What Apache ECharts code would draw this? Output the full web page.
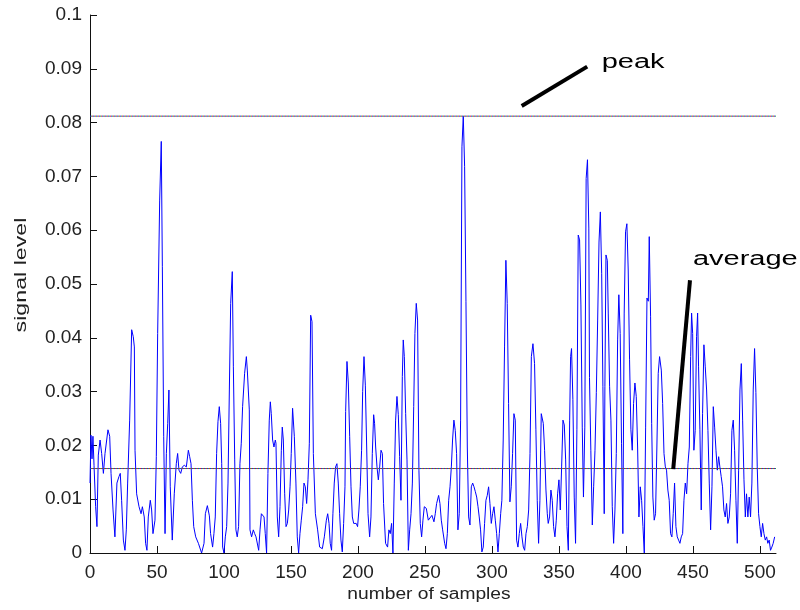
<!DOCTYPE html>
<html>
<head>
<meta charset="utf-8">
<script src="https://cdn.jsdelivr.net/npm/echarts@6/dist/echarts.min.js"></script>
<style>
  html, body { margin: 0; padding: 0; background: #ffffff; }
  #chart { width: 800px; height: 610px; }
</style>
</head>
<body>
<div id="chart"></div>
<script>
// ---- data ----
const xTitle = 'number of samples';
const yTitle = 'signal level';
const yTickLabels = ['0', '0.01', '0.02', '0.03', '0.04', '0.05', '0.06', '0.07', '0.08', '0.09', '0.1'];
const peakLabel = 'peak';
const averageLabel = 'average';
const peakLevel = 0.0812;
const averageLevel = 0.0157;

const sampleIdx = [
  0, 0.7, 1.5, 2.2, 3, 4.2, 5.2, 6.2, 7.5, 8.7, 10.0, 11.2, 12.4, 13.4, 14.7, 15.7, 17.2, 18.6, 20.1, 21.6,
  22.6, 23.6, 24.9, 26.1, 27.1, 28.1, 29.6, 31.1, 32.3, 33.1, 33.6, 34.8, 36.6, 38.1, 39.1, 40.5, 41.5, 42.5, 43.5, 45.0,
  46.0, 47.0, 48.5, 49.5, 50.5, 52.0, 53.2, 54.0, 55.0, 56.0, 57.0, 58.0, 58.9, 59.9, 61.4, 62.9, 64.4, 65.4, 66.4, 67.7,
  68.9, 70.4, 71.9, 73.4, 74.4, 75.4, 76.4, 77.4, 78.9, 80.9, 83.3, 85.1, 86.1, 87.6, 89.1, 90.0, 91.5, 92.5, 93.5, 94.5,
  95.5, 96.5, 97.5, 98.3, 99.0, 100.0, 101.0, 102.0, 103.0, 104.0, 105.0, 106.2, 107.0, 108.0, 108.9, 109.9, 110.9, 111.9, 112.9, 113.9,
  115.4, 116.7, 117.4, 118.9, 119.4, 120.6, 121.9, 122.9, 123.9, 124.9, 125.9, 126.9, 127.9, 128.9, 129.9, 130.8, 131.8, 132.8, 133.8, 134.6,
  135.3, 136.3, 137.3, 138.3, 138.8, 139.8, 140.8, 141.8, 142.8, 143.5, 144.3, 145.3, 146.3, 147.3, 148.3, 149.3, 150.2, 151.2, 152.5, 153.7,
  154.7, 155.7, 156.7, 157.7, 158.7, 159.7, 160.7, 161.7, 162.7, 163.7, 164.7, 165.7, 166.7, 168.2, 169.9, 171.4, 173.4, 174.9, 176.4, 177.4,
  178.4, 179.3, 180.3, 181.3, 182.3, 183.3, 184.3, 185.3, 186.3, 187.3, 188.3, 189.3, 190.3, 190.8, 191.8, 192.8, 193.8, 194.8, 195.8, 196.8,
  197.7, 198.7, 199.7, 200.7, 201.7, 202.7, 203.5, 204.5, 205.5, 206.5, 207.5, 208.7, 209.7, 210.7, 211.7, 212.4, 213.2, 214.2, 215.2, 216.2,
  217.2, 218.2, 219.1, 220.6, 222.1, 223.1, 224.1, 225.1, 226.1, 227.1, 228.1, 229.1, 230.1, 231.1, 232.1, 233.1, 233.8, 234.6, 235.6, 236.6,
  237.6, 238.6, 239.6, 240.6, 241.6, 242.5, 243.5, 244.5, 245.5, 246.5, 247.5, 248.5, 249.5, 251.0, 252.5, 253.7, 255.2, 256.7, 257.7, 258.7,
  260.2, 261.2, 262.2, 263.2, 264.7, 265.7, 266.7, 267.7, 268.7, 269.7, 270.6, 271.6, 272.6, 273.6, 274.6, 275.6, 276.6, 277.6, 278.6, 279.6,
  280.6, 281.6, 282.6, 283.6, 284.6, 285.6, 286.6, 287.6, 288.6, 289.6, 290.5, 291.5, 292.5, 293.5, 294.5, 295.5, 296.5, 297.5, 298.5, 299.5,
  300.5, 301.5, 302.5, 303.5, 304.5, 305.5, 306.5, 307.4, 308.4, 309.4, 310.4, 311.4, 312.4, 313.4, 314.4, 315.4, 316.4, 317.4, 318.4, 319.4,
  320.4, 321.4, 322.4, 323.4, 324.4, 325.4, 326.4, 327.4, 328.4, 329.4, 330.6, 331.8, 332.8, 333.8, 334.8, 335.8, 336.8, 337.6, 338.3, 339.3,
  340.3, 341.3, 342.0, 343.0, 344.0, 345.0, 346.0, 347.0, 348.0, 349.0, 350.0, 351.0, 352.0, 353.0, 354.0, 355.0, 356.0, 357.0, 358.0, 358.7,
  359.4, 360.4, 361.4, 362.4, 363.4, 364.4, 365.4, 366.4, 367.4, 368.3, 369.3, 370.3, 371.3, 372.3, 372.8, 373.8, 374.9, 375.9, 376.9, 377.9,
  378.9, 379.9, 380.9, 381.9, 382.8, 383.8, 384.3, 385.1, 386.1, 386.8, 387.8, 388.8, 389.8, 390.8, 391.8, 392.8, 393.8, 394.7, 395.7, 396.7,
  397.7, 398.7, 399.7, 400.7, 401.7, 402.7, 403.7, 404.7, 405.7, 406.7, 407.7, 408.7, 409.7, 410.7, 411.7, 412.7, 413.7, 414.7, 415.7, 416.7,
  417.4, 418.4, 419.2, 420.1, 421.1, 422.1, 423.1, 424.1, 425.1, 426.4, 427.4, 428.4, 429.4, 430.3, 431.3, 432.3, 433.3, 434.3, 435.3, 436.3,
  437.3, 438.3, 439.3, 440.3, 441.3, 442.3, 443.3, 444.3, 445.3, 446.3, 447.3, 448.3, 449.0, 449.8, 450.7, 451.7, 452.7, 453.5, 454.2, 455.2,
  456.2, 457.2, 458.2, 459.2, 460.2, 461.2, 462.2, 463.2, 464.2, 465.2, 466.2, 467.2, 468.2, 469.2, 470.1, 471.1, 472.1, 473.1, 474.1, 475.1,
  476.1, 477.1, 478.1, 479.1, 480.1, 481.1, 482.1, 483.1, 484.1, 485.1, 486.1, 487.1, 488.1, 489.1, 490.0, 491.0, 492.0, 493.0, 494.0, 495.0,
  496.0, 497.0, 498.0, 499.0, 500.0, 501.0, 502.0, 503.0, 504.0, 505.0, 505.9, 506.9, 507.9, 508.9, 509.9, 511
];
const signal = [
  0.0130, 0.0219, 0.0175, 0.0217, 0.0163, 0.0086, 0.0049, 0.0182, 0.0210, 0.0185, 0.0148, 0.0185, 0.0185, 0.0229, 0.0217, 0.0148, 0.0080, 0.0030, 0.0130, 0.0142,
  0.0148, 0.0098, 0.0024, 0.0005, 0.0043, 0.0130, 0.0247, 0.0415, 0.0402, 0.0383, 0.0191, 0.0110, 0.0086, 0.0073, 0.0086, 0.0067, 0.0018, 0.0005, 0.0067, 0.0098,
  0.0080, 0.0036, 0.0061, 0.0179, 0.0408, 0.0656, 0.0765, 0.0532, 0.0217, 0.0036, 0.0185, 0.0241, 0.0303, 0.0123, 0.0024, 0.0110, 0.0166, 0.0185, 0.0154, 0.0148,
  0.0160, 0.0163, 0.0160, 0.0191, 0.0179, 0.0166, 0.0098, 0.0049, 0.0030, 0.0018, 0.0000, 0.0018, 0.0073, 0.0088, 0.0069, 0.0036, 0.0011, 0.0036, 0.0067, 0.0185,
  0.0244, 0.0272, 0.0241, 0.0166, 0.0011, 0.0000, 0.0030, 0.0049, 0.0130, 0.0303, 0.0464, 0.0523, 0.0346, 0.0173, 0.0043, 0.0030, 0.0049, 0.0166, 0.0204, 0.0272,
  0.0334, 0.0365, 0.0340, 0.0266, 0.0043, 0.0030, 0.0043, 0.0036, 0.0030, 0.0030, 0.0005, 0.0043, 0.0073, 0.0073, 0.0067, 0.0036, 0.0000, 0.0148, 0.0247, 0.0281,
  0.0259, 0.0210, 0.0197, 0.0210, 0.0204, 0.0067, 0.0030, 0.0086, 0.0191, 0.0234, 0.0210, 0.0110, 0.0049, 0.0055, 0.0080, 0.0123, 0.0185, 0.0269, 0.0217, 0.0130,
  0.0030, 0.0000, 0.0036, 0.0061, 0.0086, 0.0130, 0.0123, 0.0092, 0.0136, 0.0204, 0.0442, 0.0430, 0.0185, 0.0073, 0.0043, 0.0011, 0.0008, 0.0030, 0.0061, 0.0073,
  0.0055, 0.0018, 0.0005, 0.0073, 0.0130, 0.0160, 0.0166, 0.0130, 0.0073, 0.0024, 0.0002, 0.0055, 0.0123, 0.0263, 0.0356, 0.0316, 0.0217, 0.0123, 0.0067, 0.0055,
  0.0058, 0.0055, 0.0049, 0.0080, 0.0123, 0.0191, 0.0300, 0.0365, 0.0312, 0.0197, 0.0073, 0.0030, 0.0067, 0.0185, 0.0257, 0.0241, 0.0197, 0.0160, 0.0136, 0.0160,
  0.0191, 0.0185, 0.0092, 0.0018, 0.0011, 0.0043, 0.0036, 0.0055, 0.0000, 0.0130, 0.0247, 0.0291, 0.0257, 0.0179, 0.0098, 0.0328, 0.0396, 0.0365, 0.0259, 0.0173,
  0.0005, 0.0043, 0.0073, 0.0130, 0.0272, 0.0408, 0.0464, 0.0433, 0.0154, 0.0055, 0.0030, 0.0061, 0.0086, 0.0083, 0.0061, 0.0058, 0.0070, 0.0058, 0.0073, 0.0092,
  0.0107, 0.0092, 0.0061, 0.0043, 0.0018, 0.0008, 0.0036, 0.0098, 0.0123, 0.0160, 0.0210, 0.0247, 0.0228, 0.0185, 0.0043, 0.0073, 0.0247, 0.0755, 0.0812, 0.0718,
  0.0467, 0.0197, 0.0067, 0.0052, 0.0123, 0.0130, 0.0123, 0.0114, 0.0104, 0.0086, 0.0067, 0.0043, 0.0002, 0.0011, 0.0055, 0.0098, 0.0107, 0.0123, 0.0092, 0.0055,
  0.0073, 0.0086, 0.0061, 0.0036, 0.0002, 0.0036, 0.0073, 0.0098, 0.0210, 0.0383, 0.0544, 0.0464, 0.0278, 0.0095, 0.0123, 0.0185, 0.0259, 0.0247, 0.0024, 0.0011,
  0.0036, 0.0055, 0.0030, 0.0011, 0.0005, 0.0036, 0.0049, 0.0080, 0.0185, 0.0365, 0.0389, 0.0352, 0.0229, 0.0098, 0.0018, 0.0098, 0.0259, 0.0257, 0.0241, 0.0191,
  0.0117, 0.0073, 0.0055, 0.0067, 0.0117, 0.0098, 0.0049, 0.0030, 0.0061, 0.0110, 0.0136, 0.0080, 0.0160, 0.0247, 0.0238, 0.0173, 0.0049, 0.0005, 0.0247, 0.0365,
  0.0380, 0.0285, 0.0104, 0.0018, 0.0229, 0.0591, 0.0582, 0.0461, 0.0234, 0.0104, 0.0234, 0.0696, 0.0731, 0.0604, 0.0326, 0.0191, 0.0052, 0.0123, 0.0191, 0.0298,
  0.0433, 0.0578, 0.0634, 0.0520, 0.0310, 0.0073, 0.0310, 0.0554, 0.0544, 0.0446, 0.0310, 0.0247, 0.0086, 0.0018, 0.0080, 0.0185, 0.0396, 0.0480, 0.0408, 0.0204,
  0.0036, 0.0446, 0.0597, 0.0612, 0.0526, 0.0359, 0.0229, 0.0191, 0.0278, 0.0316, 0.0291, 0.0197, 0.0067, 0.0123, 0.0098, 0.0049, 0.0000, 0.0234, 0.0474, 0.0468,
  0.0588, 0.0439, 0.0241, 0.0104, 0.0061, 0.0073, 0.0197, 0.0334, 0.0365, 0.0340, 0.0278, 0.0185, 0.0160, 0.0154, 0.0117, 0.0098, 0.0036, 0.0030, 0.0073, 0.0130,
  0.0049, 0.0030, 0.0024, 0.0018, 0.0030, 0.0036, 0.0098, 0.0130, 0.0110, 0.0166, 0.0197, 0.0365, 0.0446, 0.0408, 0.0191, 0.0228, 0.0402, 0.0446, 0.0346, 0.0229,
  0.0080, 0.0259, 0.0387, 0.0346, 0.0303, 0.0228, 0.0130, 0.0043, 0.0123, 0.0272, 0.0234, 0.0191, 0.0154, 0.0179, 0.0160, 0.0142, 0.0123, 0.0080, 0.0067, 0.0092,
  0.0055, 0.0067, 0.0110, 0.0228, 0.0247, 0.0191, 0.0098, 0.0018, 0.0154, 0.0303, 0.0352, 0.0247, 0.0136, 0.0067, 0.0110, 0.0067, 0.0104, 0.0067, 0.0130, 0.0303,
  0.0380, 0.0298, 0.0160, 0.0073, 0.0049, 0.0030, 0.0055, 0.0036, 0.0024, 0.0030, 0.0018, 0.0024, 0.0005, 0.0011, 0.0018, 0.0030
];

// annotation anchors (data coordinates)
const peakPointer = [[322.2, 0.0831], [371.1, 0.0904]];
const peakTextAt = [381.9, 0.0911];
const avgPointer = [[447.8, 0.0507], [435.3, 0.0156]];
const avgTextAt = [450.0, 0.0546];

const xMax = 512;

// ---- chart ----
const chart = echarts.init(document.getElementById('chart'), null, { renderer: 'canvas' });
const seriesData = sampleIdx.map((x, i) => [x, signal[i]]);

function refLine(level, color, offset) {
  return {
    type: 'line',
    data: [[0, level], [xMax, level]],
    showSymbol: false,
    silent: true,
    lineStyle: { color: color, width: 1, type: [1, 2], dashOffset: offset },
    z: 3
  };
}

const font = '"Liberation Sans", Arial, sans-serif';

chart.setOption({
  animation: false,
  backgroundColor: '#ffffff',
  grid: { left: 90, right: 24, top: 15, bottom: 57, containLabel: false },
  xAxis: {
    type: 'value', min: 0, max: xMax, interval: 50,
    axisLine: { lineStyle: { color: '#111', width: 1 } },
    axisTick: { inside: true, length: 7, lineStyle: { color: '#111' } },
    splitLine: { show: false },
    axisLabel: {
      color: '#222', fontSize: 19, fontFamily: font, margin: 10,
      showMaxLabel: false,
      formatter: v => (v % 50 === 0 ? String(v) : '')
    }
  },
  yAxis: {
    type: 'value', min: 0, max: 0.1, interval: 0.01,
    axisLine: { show: true, lineStyle: { color: '#111', width: 1 } },
    axisTick: { show: true, inside: true, length: 7, lineStyle: { color: '#111' } },
    splitLine: { show: false },
    axisLabel: {
      color: '#222', fontSize: 19, fontFamily: font, margin: 8,
      formatter: v => yTickLabels[Math.round(v / 0.01)]
    }
  },
  series: [
    {
      type: 'line',
      data: seriesData,
      showSymbol: false,
      lineStyle: { color: '#0000ff', width: 1 },
      z: 2
    },
    refLine(peakLevel, '#2020e0', 0),
    refLine(peakLevel, '#d02020', 1),
    refLine(peakLevel, '#20a040', 2),
    refLine(averageLevel, '#2020e0', 0),
    refLine(averageLevel, '#d02020', 1),
    refLine(averageLevel, '#20a040', 2)
  ]
});

const px = p => chart.convertToPixel({ gridIndex: 0 }, p);
const pp0 = px(peakPointer[0]), pp1 = px(peakPointer[1]);
const ap0 = px(avgPointer[0]), ap1 = px(avgPointer[1]);
const pt = px(peakTextAt), at = px(avgTextAt);

chart.setOption({
  graphic: [
    { type: 'line', shape: { x1: pp0[0], y1: pp0[1], x2: pp1[0], y2: pp1[1] },
      style: { stroke: '#000', lineWidth: 4 }, z: 10 },
    { type: 'line', shape: { x1: ap0[0], y1: ap0[1], x2: ap1[0], y2: ap1[1] },
      style: { stroke: '#000', lineWidth: 4 }, z: 10 },
    { type: 'text', x: pt[0], y: pt[1], scaleX: 1.45,
      style: { text: peakLabel, fill: '#000', font: '20px ' + font, textAlign: 'left', textVerticalAlign: 'middle' }, z: 10 },
    { type: 'text', x: at[0], y: at[1], scaleX: 1.45,
      style: { text: averageLabel, fill: '#000', font: '20px ' + font, textAlign: 'left', textVerticalAlign: 'middle' }, z: 10 },
    { type: 'text', x: 429, y: 595, scaleX: 1.2,
      style: { text: xTitle, fill: '#222', font: '16px ' + font, textAlign: 'center', textVerticalAlign: 'middle' }, z: 10 },
    { type: 'text', x: 22, y: 275, rotation: Math.PI / 2, scaleX: 1.45,
      style: { text: yTitle, fill: '#222', font: '16px ' + font, textAlign: 'center', textVerticalAlign: 'middle' }, z: 10 }
  ]
});
</script>
</body>
</html>
